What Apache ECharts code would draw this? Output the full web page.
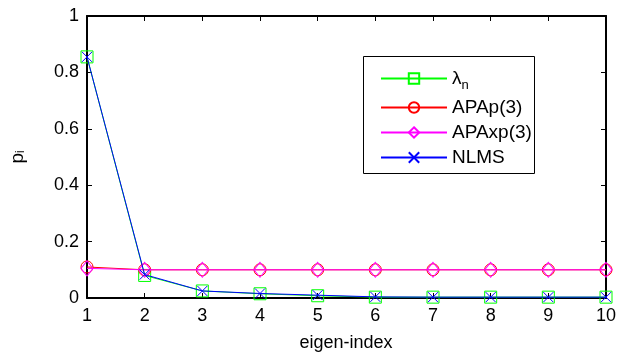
<!DOCTYPE html>
<html><head><meta charset="utf-8">
<script src="https://cdn.jsdelivr.net/npm/echarts@6/dist/echarts.min.js"></script>
<style>html,body{margin:0;padding:0;background:#fff}#c{width:624px;height:353px}</style>
</head><body><div id="c"></div>
<script>
const eigenIndex = [1,2,3,4,5,6,7,8,9,10];
const lambdaN = [0.855,0.080,0.025,0.015,0.008,0.003,0.003,0.003,0.003,0.003];
const apap3 = [0.110,0.100,0.100,0.100,0.100,0.100,0.100,0.100,0.100,0.100];
const apaxp3 = [0.105,0.100,0.100,0.100,0.100,0.100,0.100,0.100,0.100,0.100];
const nlms = [0.855,0.083,0.025,0.016,0.010,0.004,0.003,0.003,0.003,0.003];
const xTicks = [1,2,3,4,5,6,7,8,9,10];
const yTicks = [0,0.2,0.4,0.6,0.8,1];
const seriesNames = ['λn','APAp(3)','APAxp(3)','NLMS'];
const seriesColors = ['#00ff00','#ff0000','#ff00ff','#0000ff'];
const xAxisTitle = 'eigen-index';

const pts = arr => arr.map((v,i)=>[eigenIndex[i], v]);
const font = 'Liberation Sans, Arial, sans-serif';
const chart = echarts.init(document.getElementById('c'), null, {renderer:'canvas'});
const axisCommon = {
  axisLine:{show:true,onZero:false,lineStyle:{color:'#000',width:2}},
  axisTick:{show:true,inside:true,length:5,lineStyle:{color:'#000',width:1}},
  splitLine:{show:false}
};
const crossPath = 'path://M0,0L10,10M10,0L0,10';
function mk(name, data, color, symbol, size, z){
  return {name, type:'line', data:pts(data), symbol, symbolSize:size, z,
    lineStyle:{color, width:1}, itemStyle:{color:'rgba(255,255,255,0)', borderColor:color, borderWidth:1},
    animation:false};
}
chart.setOption({
  animation:false,
  grid:{left:87,right:18,top:16,bottom:55,containLabel:false,outerBoundsMode:'none'},
  xAxis:[
    Object.assign({type:'value',min:1,max:10,interval:1,position:'bottom',
      axisLabel:{color:'#000',fontSize:18,fontFamily:font,margin:9,
        formatter:v=>xTicks.includes(v)?String(v):''}},axisCommon),
    Object.assign({type:'value',min:1,max:10,interval:1,position:'top',axisLabel:{show:false}},axisCommon)
  ],
  yAxis:[
    Object.assign({type:'value',min:0,max:1,interval:0.2,position:'left',
      name:'{p|p}{s|i}',nameLocation:'middle',nameGap:60,nameRotate:90,
      nameTextStyle:{color:'#000',fontFamily:font,rich:{p:{fontSize:19,fontFamily:font,color:'#000'},s:{fontSize:12,fontFamily:font,color:'#000',verticalAlign:'bottom'}}},
      axisLabel:{color:'#000',fontSize:18,fontFamily:font,margin:8,
        formatter:v=>{const t=yTicks.find(y=>Math.abs(y-v)<1e-9);return t===undefined?'':String(t);}}},axisCommon),
    Object.assign({type:'value',min:0,max:1,interval:0.2,position:'right',axisLabel:{show:false}},axisCommon)
  ],
  legend:{orient:'vertical',left:375,top:64,itemWidth:66,itemHeight:13,itemGap:6,
    data:seriesNames,
    formatter:n=>n==='λn'?'{l|λ}{s|n}':'{t|'+n+'}',
    textStyle:{color:'#000',fontFamily:font,fontSize:19,
      rich:{t:{fontSize:19,fontFamily:font,color:'#000'},l:{fontSize:19,fontFamily:font,color:'#000'},s:{fontSize:13,fontFamily:font,color:'#000',verticalAlign:'top',padding:[14,0,0,0]}}}},
  graphic:[
    {type:'rect',left:363,top:56,shape:{width:171,height:117},style:{fill:'#fff',stroke:'#000',lineWidth:1},z:-1,silent:true},
    {type:'text',x:346,y:343,style:{text:xAxisTitle,fill:'#000',font:'18px '+font,align:'center',verticalAlign:'middle'},silent:true}
  ],
  series:[
    mk(seriesNames[0], lambdaN, seriesColors[0], 'rect', 12, 2),
    mk(seriesNames[1], apap3, seriesColors[1], 'circle', 12, 3),
    mk(seriesNames[2], apaxp3, seriesColors[2], 'diamond', [12,15], 4),
    mk(seriesNames[3], nlms, seriesColors[3], crossPath, 10, 5)
  ]
});
</script></body></html>
